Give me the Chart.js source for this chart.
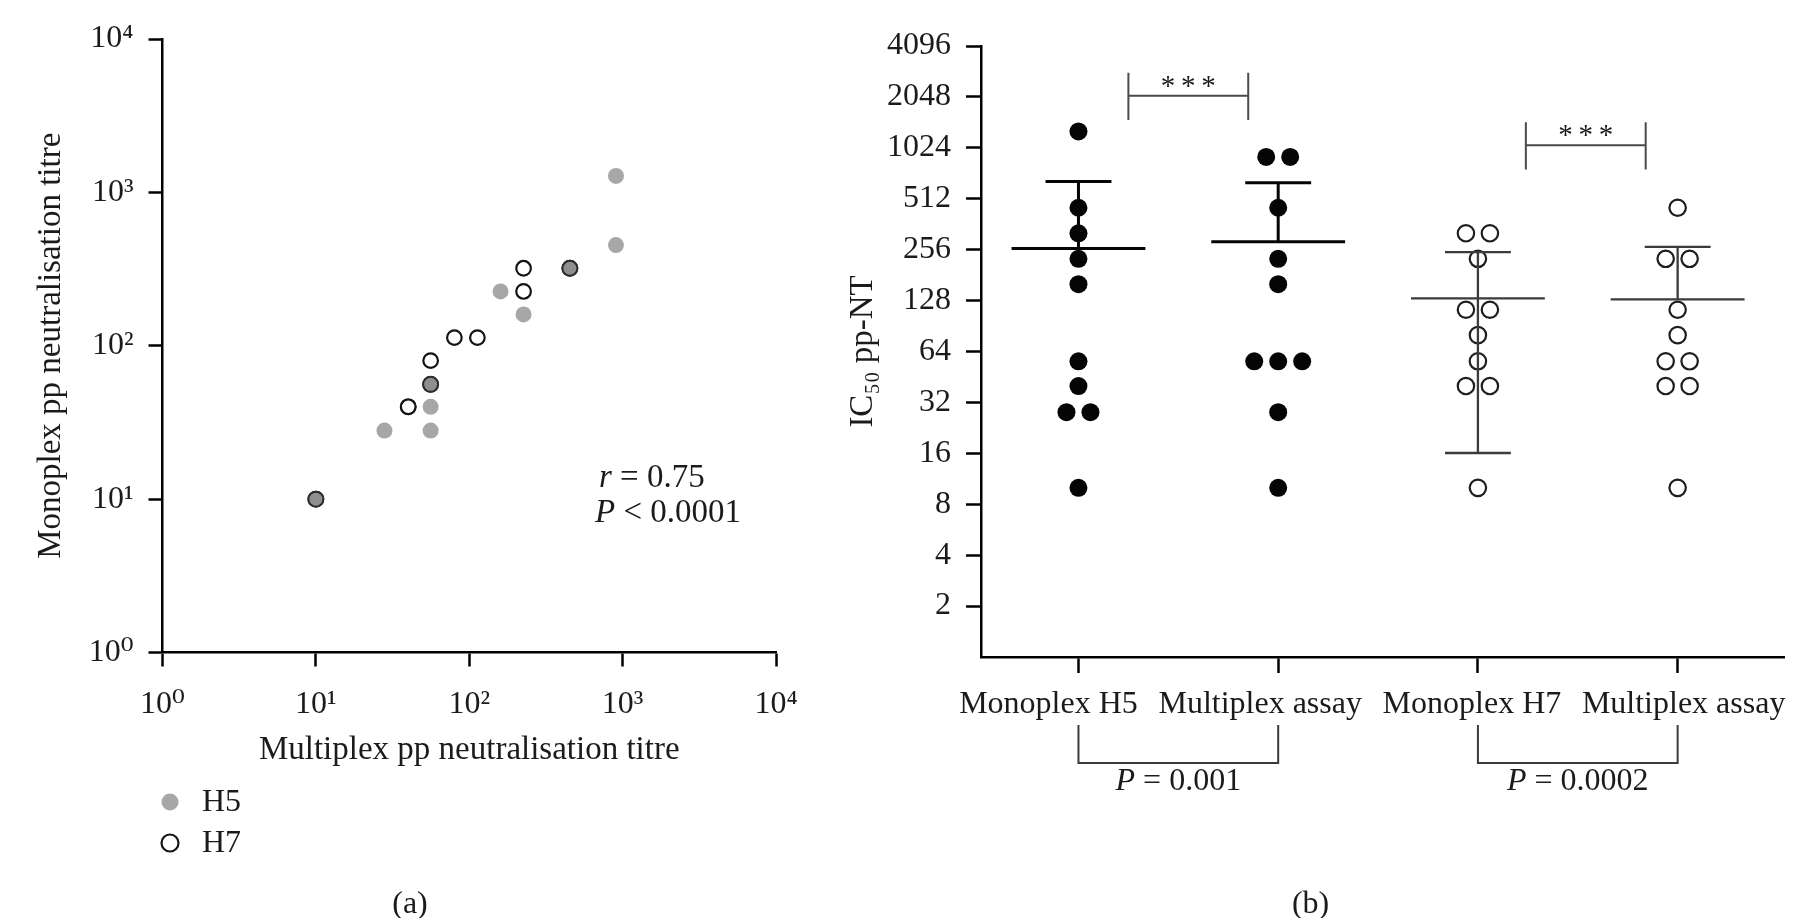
<!DOCTYPE html>
<html>
<head>
<meta charset="utf-8">
<title>Monoplex vs multiplex pp neutralisation</title>
<script src="https://cdn.jsdelivr.net/npm/chart.js@4.4.0/dist/chart.umd.min.js"></script>
<style>
  html, body { margin: 0; padding: 0; background: #fff; }
  body { width: 1817px; height: 918px; position: relative; overflow: hidden; }
  #left { position: absolute; left: 0; top: 0; width: 840px; height: 918px; }
  #right { position: absolute; left: 840px; top: 0; width: 977px; height: 918px; }
</style>
</head>
<body>
<div id="left"><canvas id="scatterChart"></canvas></div>
<div id="right"><canvas id="dotChart"></canvas></div>
<script>
// pp neutralisation titres, one entry per serum (same order in every array)
const h5Multiplex = [905, 905, 160, 226, 28, 56, 56, 10, 56, 453];
const h5Monoplex  = [1280, 453, 226, 160, 28, 40, 28, 10, 56, 320];
const h7Multiplex = [226, 226, 80, 113, 56, 40, 40, 10, 56, 453];
const h7Monoplex  = [320, 226, 113, 113, 80, 40, 40, 10, 56, 320];

const decadeTicks = [1, 10, 100, 1000, 10000];
const log2Ticks = [2, 4, 8, 16, 32, 64, 128, 256, 512, 1024, 2048, 4096];
const groupLabels = ['Monoplex H5', 'Multiplex assay', 'Monoplex H7', 'Multiplex assay'];
const groupValues = [h5Monoplex, h5Multiplex, h7Monoplex, h7Multiplex];
const pValues = ['0.001', '0.0002'];
const rValue = '0.75';
const corrP = '0.0001';

const serif = "'Liberation Serif', 'DejaVu Serif', 'Times New Roman', serif";
const ink = '#1b1b1b';
const fs = 32;      // tick labels, notes
const fsTitle = 33; // axis titles
const sup = ['\u2070', '\u00B9', '\u00B2', '\u00B3', '\u2074'];

// text with an italic part (r, P)
function drawRich(ctx, parts, x, y, align, size) {
    size = size || fs;
    const fonts = parts.map(p => (p.italic ? 'italic ' : '') + size + 'px ' + serif);
    const widths = parts.map((p, i) => { ctx.font = fonts[i]; return ctx.measureText(p.t).width; });
    const total = widths.reduce((a, b) => a + b, 0);
    let cx = align === 'center' ? x - total / 2 : x;
    ctx.textAlign = 'left';
    ctx.textBaseline = 'middle';
    ctx.fillStyle = ink;
    parts.forEach((p, i) => { ctx.font = fonts[i]; ctx.fillText(p.t, cx, y); cx += widths[i]; });
}

// ---------- (a) scatter ----------
const h5Pts = h5Multiplex.map((x, i) => ({ x: x, y: h5Monoplex[i] }));
const h7Pts = h7Multiplex.map((x, i) => ({ x: x, y: h7Monoplex[i] }));
const bothPts = h5Pts.filter(p => h7Pts.some(q => q.x === p.x && q.y === p.y));

const scatterExtras = {
    id: 'scatterExtras',
    afterDraw(chart) {
        const ctx = chart.ctx;
        ctx.save();
        // r and P
        drawRich(ctx, [{ t: 'r', italic: true }, { t: ' = ' + rValue }], 599, 478, 'left', 33);
        drawRich(ctx, [{ t: 'P', italic: true }, { t: ' < ' + corrP }], 595, 513, 'left', 33);
        // legend, stacked
        chart.data.datasets.filter(d => !d.noLegend).forEach((d, i) => {
            const y = 802 + i * 41;
            ctx.beginPath();
            ctx.arc(170, y, 8.5, 0, Math.PI * 2);
            ctx.fillStyle = d.backgroundColor;
            ctx.fill();
            if (d.borderWidth) {
                ctx.lineWidth = d.borderWidth;
                ctx.strokeStyle = d.borderColor;
                ctx.stroke();
            }
            ctx.font = fs + 'px ' + serif;
            ctx.fillStyle = ink;
            ctx.textAlign = 'left';
            ctx.textBaseline = 'middle';
            ctx.fillText(d.label, 202, y + 1);
        });
        ctx.font = fs + 'px ' + serif;
        ctx.textAlign = 'center';
        ctx.fillText('(a)', 410, 905);
        ctx.restore();
    }
};

new Chart(document.getElementById('scatterChart'), {
    type: 'scatter',
    data: {
        datasets: [{
            label: 'H5 + H7',
            noLegend: true,
            data: bothPts,
            backgroundColor: '#8e8e8e',
            borderColor: '#2b2b2b',
            borderWidth: 2,
            pointRadius: 7.5
        }, {
            label: 'H5',
            data: h5Pts,
            backgroundColor: '#a7a7a7',
            borderColor: '#a7a7a7',
            borderWidth: 0,
            pointRadius: 8
        }, {
            label: 'H7',
            data: h7Pts,
            backgroundColor: '#ffffff',
            borderColor: '#141414',
            borderWidth: 2.2,
            pointRadius: 7.3
        }]
    },
    options: {
        responsive: true,
        maintainAspectRatio: false,
        animation: false,
        layout: { padding: { top: 39, right: 64, bottom: 0, left: 0 } },
        plugins: { legend: { display: false }, tooltip: { enabled: false } },
        scales: {
            x: {
                type: 'logarithmic',
                min: 1,
                max: 10000,
                afterBuildTicks: s => { s.ticks = decadeTicks.map(v => ({ value: v })); },
                afterFit: s => { s.height = 265.5; },
                ticks: {
                    callback: v => '10' + sup[Math.round(Math.log10(v))],
                    font: { family: serif, size: fs },
                    color: ink,
                    padding: 19,
                    maxRotation: 0,
                    autoSkip: false
                },
                grid: { display: true, drawOnChartArea: false, drawTicks: true, tickLength: 14, tickWidth: 2.5, tickColor: '#000' },
                border: { display: true, width: 2.5, color: '#000' },
                title: {
                    display: true,
                    text: 'Multiplex pp neutralisation titre',
                    font: { family: serif, size: fsTitle },
                    color: ink,
                    padding: { top: 0, bottom: 148 }
                }
            },
            y: {
                type: 'logarithmic',
                min: 1,
                max: 10000,
                afterBuildTicks: s => { s.ticks = decadeTicks.map(v => ({ value: v })); },
                afterFit: s => { s.width = 162.5; },
                ticks: {
                    callback: v => '10' + sup[Math.round(Math.log10(v))],
                    font: { family: serif, size: fs },
                    color: ink,
                    padding: 15,
                    autoSkip: false
                },
                grid: { display: true, drawOnChartArea: false, drawTicks: true, tickLength: 14, tickWidth: 2.5, tickColor: '#000' },
                border: { display: true, width: 2.5, color: '#000' },
                title: {
                    display: true,
                    text: 'Monoplex pp neutralisation titre',
                    font: { family: serif, size: fsTitle },
                    color: ink,
                    padding: { top: 32, bottom: 0 }
                }
            }
        }
    },
    plugins: [scatterExtras]
});

// ---------- (b) dot plot ----------
function swarm(values, center) {
    const counts = {}, seen = {};
    values.forEach(v => { counts[v] = (counts[v] || 0) + 1; });
    return values.map(v => {
        seen[v] = (seen[v] || 0) + 1;
        return { x: center + (seen[v] - 1 - (counts[v] - 1) / 2) * 0.12, y: v };
    });
}

function meanSd(values) {
    const m = values.reduce((a, b) => a + b, 0) / values.length;
    const v = values.reduce((a, b) => a + (b - m) * (b - m), 0) / (values.length - 1);
    return { mean: m, sd: Math.sqrt(v) };
}

// labels sit a little off their ticks in the original; pad with spaces
// (positive = trailing, negative = leading)
const labelNudge = [6, 3, 0, -3];
function nudged(label, n) {
    const pad = ' '.repeat(Math.abs(n));
    return n >= 0 ? label + pad : pad + label;
}

const dotExtras = {
    id: 'dotExtras',
    afterDatasetsDraw(chart) {
        const ctx = chart.ctx;
        const xs = chart.scales.x, ys = chart.scales.y;
        ctx.save();
        ctx.lineCap = 'butt';
        // mean +/- SD
        groupValues.forEach((vals, i) => {
            const st = meanSd(vals);
            ctx.strokeStyle = i < 2 ? '#050505' : '#3b3b3b';
            ctx.lineWidth = i < 2 ? 3 : 2.3;
            const yM = ys.getPixelForValue(st.mean);
            const yU = ys.getPixelForValue(st.mean + st.sd);
            const xc = xs.getPixelForValue(i);
            ctx.beginPath();
            ctx.moveTo(xs.getPixelForValue(i - 0.335), yM);
            ctx.lineTo(xs.getPixelForValue(i + 0.335), yM);
            ctx.moveTo(xc, yM);
            ctx.lineTo(xc, yU);
            ctx.moveTo(xs.getPixelForValue(i - 0.165), yU);
            ctx.lineTo(xs.getPixelForValue(i + 0.165), yU);
            if (st.mean - st.sd > ys.min) {
                const yL = ys.getPixelForValue(st.mean - st.sd);
                ctx.moveTo(xc, yM);
                ctx.lineTo(xc, yL);
                ctx.moveTo(xs.getPixelForValue(i - 0.165), yL);
                ctx.lineTo(xs.getPixelForValue(i + 0.165), yL);
            }
            ctx.stroke();
        });
        ctx.restore();
    },
    afterDraw(chart) {
        const ctx = chart.ctx;
        const xs = chart.scales.x, ys = chart.scales.y;
        const bottom = chart.chartArea.bottom;
        ctx.save();
        // *** brackets above the pairs
        [{ from: 0.25, to: 0.85, level: 2078 }, { from: 2.24, to: 2.84, level: 1059 }].forEach(b => {
            const x1 = xs.getPixelForValue(b.from), x2 = xs.getPixelForValue(b.to);
            const y = ys.getPixelForValue(b.level);
            const yt = ys.getPixelForValue(b.level * 1.37), yb = ys.getPixelForValue(b.level / 1.39);
            ctx.strokeStyle = '#4a4a4a';
            ctx.lineWidth = 2;
            ctx.beginPath();
            ctx.moveTo(x1, yt); ctx.lineTo(x1, yb);
            ctx.moveTo(x2, yt); ctx.lineTo(x2, yb);
            ctx.moveTo(x1, y); ctx.lineTo(x2, y);
            ctx.stroke();
            ctx.font = '29px ' + serif;
            ctx.fillStyle = ink;
            ctx.textAlign = 'center';
            ctx.textBaseline = 'alphabetic';
            ctx.fillText('*\u2009*\u2009*', (x1 + x2) / 2, y - 1);
        });
        // P brackets under the axis
        pValues.forEach((p, k) => {
            const x1 = xs.getPixelForValue(2 * k), x2 = xs.getPixelForValue(2 * k + 1);
            ctx.strokeStyle = '#3b3b3b';
            ctx.lineWidth = 2;
            ctx.beginPath();
            ctx.moveTo(x1, bottom + 68);
            ctx.lineTo(x1, bottom + 106);
            ctx.lineTo(x2, bottom + 106);
            ctx.lineTo(x2, bottom + 68);
            ctx.stroke();
            drawRich(ctx, [{ t: 'P', italic: true }, { t: ' = ' + p }], (x1 + x2) / 2, bottom + 125, 'center');
        });
        ctx.font = fs + 'px ' + serif;
        ctx.fillStyle = ink;
        ctx.textAlign = 'center';
        ctx.textBaseline = 'middle';
        ctx.fillText('(b)', 470.6, 905);
        ctx.restore();
    }
};

new Chart(document.getElementById('dotChart'), {
    type: 'scatter',
    data: {
        datasets: groupValues.map((vals, i) => ({
            label: groupLabels[i],
            data: swarm(vals, i),
            backgroundColor: i < 2 ? '#050505' : '#ffffff',
            borderColor: i < 2 ? '#050505' : '#1e1e1e',
            borderWidth: i < 2 ? 0 : 2.2,
            pointRadius: i < 2 ? 9 : 8.2
        }))
    },
    options: {
        responsive: true,
        maintainAspectRatio: false,
        animation: false,
        layout: { padding: { top: 46, right: 32.5, bottom: 0, left: 0 } },
        plugins: { legend: { display: false }, tooltip: { enabled: false } },
        scales: {
            x: {
                type: 'linear',
                min: -0.488,
                max: 3.535,
                afterBuildTicks: s => { s.ticks = groupLabels.map((l, i) => ({ value: i })); },
                afterFit: s => { s.height = 261; },
                ticks: {
                    callback: v => nudged(groupLabels[v], labelNudge[v]),
                    font: { family: serif, size: fs },
                    color: ink,
                    padding: 12,
                    labelOffset: -6,
                    maxRotation: 0,
                    autoSkip: false
                },
                grid: { display: true, drawOnChartArea: false, drawTicks: true, tickLength: 16, tickWidth: 2.5, tickColor: '#000' },
                border: { display: true, width: 2.5, color: '#000' }
            },
            y: {
                type: 'logarithmic',
                min: 1,
                max: 4096,
                afterBuildTicks: s => { s.ticks = log2Ticks.map(v => ({ value: v })); },
                afterFit: s => { s.width = 141; },
                ticks: {
                    callback: v => String(v),
                    font: { family: serif, size: fs },
                    color: ink,
                    padding: 15,
                    autoSkip: false
                },
                grid: { display: true, drawOnChartArea: false, drawTicks: true, tickLength: 15, tickWidth: 2.5, tickColor: '#000' },
                border: { display: true, width: 2.5, color: '#000' },
                title: {
                    display: true,
                    text: 'IC\u2085\u2080 pp-NT',
                    font: { family: serif, size: fsTitle },
                    color: ink,
                    padding: { top: 4, bottom: 0 }
                }
            }
        }
    },
    plugins: [dotExtras]
});
</script>
</body>
</html>
